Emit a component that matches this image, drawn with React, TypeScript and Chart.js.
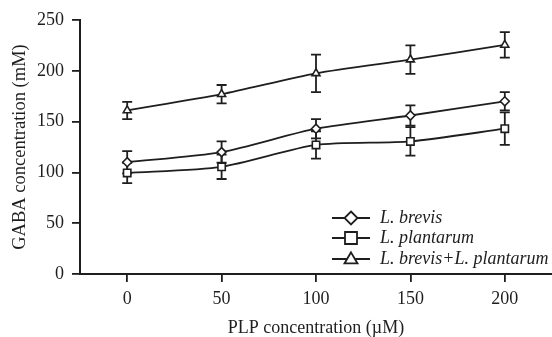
import React, { useEffect, useRef } from "react";
import { Chart, registerables } from "chart.js";
Chart.register(...registerables);

const xValues = [0, 50, 100, 150, 200];
const xTicks = [0, 50, 100, 150, 200];
const seriesLabels = ["L. brevis", "L. plantarum", "L. brevis+L. plantarum"];
const brevis = [110, 120, 143, 156, 170];
const brevisErr = [11, 10.5, 9.5, 10, 9];
const plantarum = [99.5, 105.5, 127, 130.5, 143];
const plantarumErr = [10, 12, 13.5, 14, 16];
const combined = [161, 177, 197.5, 211, 225.5];
const combinedErr = [8.5, 9, 18.5, 14, 12.5];
const xTitle = "PLP concentration (\u00b5M)";
const yTitle = "GABA concentration (mM)";

const INK = "#1e1e1e";
const SERIF = "'Liberation Serif', 'DejaVu Serif', serif";

const seriesValues = [brevis, plantarum, combined];
const seriesErrors = [brevisErr, plantarumErr, combinedErr];
const pointStyles = ["rectRot", "rect", "triangle"] as const;
const pointRadii = [4.5, 5.2, 4.6];

function drawMarker(ctx: CanvasRenderingContext2D, style: string, x: number, y: number, r: number) {
  ctx.beginPath();
  if (style === "rectRot") {
    ctx.moveTo(x, y - r);
    ctx.lineTo(x + r, y);
    ctx.lineTo(x, y + r);
    ctx.lineTo(x - r, y);
    ctx.closePath();
  } else if (style === "rect") {
    ctx.rect(x - r, y - r, 2 * r, 2 * r);
  } else {
    const h = r * 1.7;
    ctx.moveTo(x, y - h * 0.6);
    ctx.lineTo(x + r, y + h * 0.4);
    ctx.lineTo(x - r, y + h * 0.4);
    ctx.closePath();
  }
  ctx.fillStyle = "#fff";
  ctx.fill();
  ctx.stroke();
}

const errorBarPlugin = {
  id: "errorBars",
  beforeDatasetsDraw(chart: any) {
    const ctx = chart.ctx;
    const xs = chart.scales.x;
    const ys = chart.scales.y;
    ctx.save();
    ctx.strokeStyle = INK;
    ctx.lineWidth = 1.8;
    seriesValues.forEach((vals, si) => {
      const errs = seriesErrors[si];
      vals.forEach((v, i) => {
        const px = xs.getPixelForValue(xValues[i]);
        const top = ys.getPixelForValue(v + errs[i]);
        const bot = ys.getPixelForValue(v - errs[i]);
        ctx.beginPath();
        ctx.moveTo(px, top);
        ctx.lineTo(px, bot);
        ctx.moveTo(px - 5, top);
        ctx.lineTo(px + 5, top);
        ctx.moveTo(px - 5, bot);
        ctx.lineTo(px + 5, bot);
        ctx.stroke();
      });
    });
    ctx.restore();
  },
};

const legendPlugin = {
  id: "customLegend",
  afterDraw(chart: any) {
    const ctx = chart.ctx;
    const area = chart.chartArea;
    const left = area.right - 220;
    const rows = [area.bottom - 56, area.bottom - 36, area.bottom - 15];
    const markerR = [6.5, 6, 6.5];
    ctx.save();
    chart.data.datasets.forEach((ds: any, i: number) => {
      const y = rows[i];
      ctx.strokeStyle = INK;
      ctx.lineWidth = 1.8;
      ctx.beginPath();
      ctx.moveTo(left, y);
      ctx.lineTo(left + 38, y);
      ctx.stroke();
      drawMarker(ctx, pointStyles[i], left + 19, y, markerR[i]);
      ctx.fillStyle = INK;
      ctx.font = `italic 18px ${SERIF}`;
      ctx.textBaseline = "middle";
      ctx.textAlign = "left";
      ctx.fillText(ds.label, left + 48, y);
    });
    ctx.restore();
  },
};

export default function App() {
  const ref = useRef<HTMLCanvasElement | null>(null);
  useEffect(() => {
    if (!ref.current) return;
    const chart = new Chart(ref.current, {
      type: "line",
      data: {
        datasets: seriesLabels.map((label, i) => ({
          label,
          data: xValues.map((x, j) => ({ x, y: seriesValues[i][j] })),
          borderColor: INK,
          borderWidth: 1.8,
          backgroundColor: "#fff",
          pointStyle: pointStyles[i],
          pointRadius: pointRadii[i],
          pointBorderWidth: 1.6,
          pointBorderColor: INK,
          pointBackgroundColor: "#fff",
          tension: 0.25,
          fill: false,
        })),
      },
      options: {
        animation: false,
        responsive: false,
        maintainAspectRatio: false,
        layout: { autoPadding: false, padding: { top: 20, right: 0, left: 0, bottom: 0 } },
        plugins: { legend: { display: false }, tooltip: { enabled: false } },
        scales: {
          x: {
            type: "linear",
            min: -25,
            max: 225,
            afterBuildTicks: (s: any) => {
              s.ticks = xTicks.map((v) => ({ value: v }));
            },
            afterFit: (s: any) => {
              s.height = 63;
              s.paddingLeft = 0;
              s.paddingRight = 0;
            },
            grid: {
              drawOnChartArea: false,
              drawTicks: true,
              tickLength: 8,
              color: INK,
              lineWidth: 1.8,
            },
            border: { color: INK, width: 2 },
            ticks: { color: INK, font: { family: SERIF, size: 18 }, padding: 6, maxRotation: 0 },
            title: {
              display: true,
              text: xTitle,
              color: INK,
              font: { family: SERIF, size: 18, lineHeight: 1 },
              padding: { top: 0, bottom: 0 },
            },
          },
          y: {
            type: "linear",
            min: 0,
            max: 250,
            ticks: { stepSize: 50, color: INK, font: { family: SERIF, size: 18 }, padding: 8 },
            afterFit: (s: any) => {
              s.width = 80;
            },
            grid: {
              drawOnChartArea: false,
              drawTicks: true,
              tickLength: 8,
              color: INK,
              lineWidth: 1.8,
            },
            border: { color: INK, width: 2 },
            title: {
              display: true,
              text: yTitle,
              color: INK,
              font: { family: SERIF, size: 18.5 },
              padding: { top: 9, bottom: 0 },
            },
          },
        },
      },
      plugins: [errorBarPlugin, legendPlugin],
    } as any);
    return () => chart.destroy();
  }, []);
  return (
    <div style={{ position: "fixed", left: 0, top: 0, width: 552, height: 337, background: "#fff" }}>
      <canvas ref={ref} width={552} height={337} style={{ width: 552, height: 337 }} />
    </div>
  );
}
